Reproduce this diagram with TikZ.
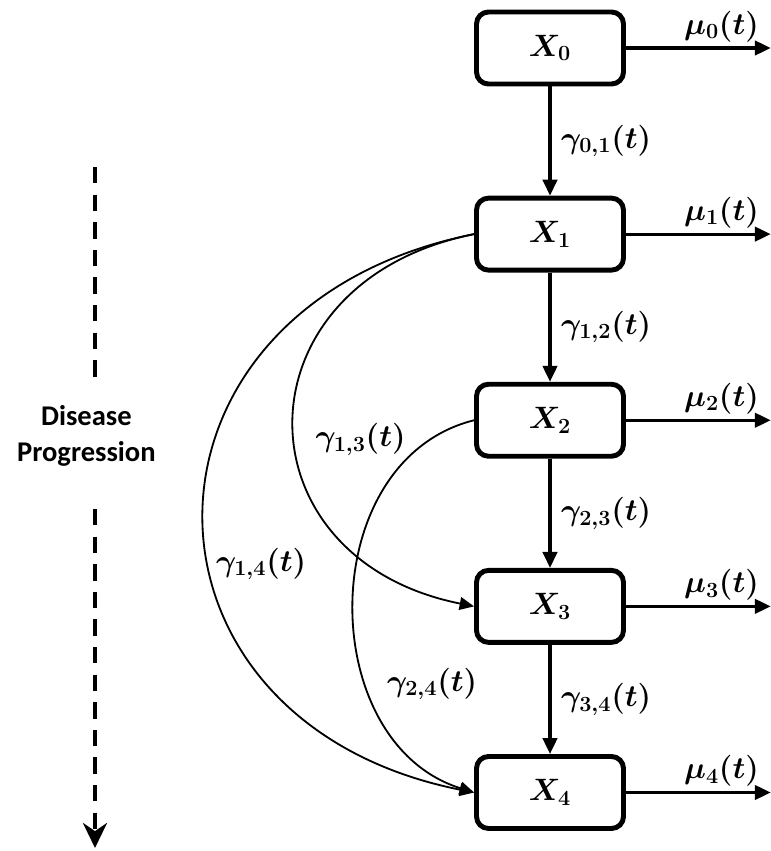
\RequirePackage{fix-cm}
\documentclass[tikz,border=0pt]{standalone}
\usepackage{amsmath,bm}
\usepackage{fontspec}
\newfontfamily\calibri{Carlito}
\usetikzlibrary{arrows.meta,positioning}

\begin{document}
\begin{tikzpicture}[
  node distance=2.73cm,
  state/.style={draw, line width=3.5pt, rounded corners=0.3cm, align=center, minimum width=3.675cm, minimum height=1.8cm, inner sep=0pt, font=\fontsize{22}{26}\selectfont},
  arrow/.style={-{Triangle[length=0.4cm, width=0.36cm]}, line width=2.3pt},
  jump/.style={-{Triangle[length=0.36cm, width=0.32cm]}, line width=1.3pt},
  rate/.style={inner sep=1pt, font=\fontsize{22}{26}\selectfont},
  progress/.style={dash pattern=on 0.41cm off 0.28cm, line width=2.8pt}
]
\useasboundingbox (0,0) rectangle (19.25,-21.275);
\node[state] (x0) at (13.75,-1.2) {$\bm{X_0}$};
\node[state, below=of x0] (x1) {$\bm{X_1}$};
\node[state, below=of x1] (x2) {$\bm{X_2}$};
\node[state, below=of x2] (x3) {$\bm{X_3}$};
\node[state, below=of x3] (x4) {$\bm{X_4}$};
\coordinate[right=3.62cm of x0.east] (m0);
\coordinate[right=3.62cm of x1.east] (m1);
\coordinate[right=3.62cm of x2.east] (m2);
\coordinate[right=3.62cm of x3.east] (m3);
\coordinate[right=3.62cm of x4.east] (m4);
\draw[arrow] (x0) -- node[rate, right=0.2cm]{$\bm{\gamma_{0,1}(t)}$} (x1);
\draw[arrow] (x1) -- node[rate, right=0.2cm]{$\bm{\gamma_{1,2}(t)}$} (x2);
\draw[arrow] (x2) -- node[rate, right=0.2cm]{$\bm{\gamma_{2,3}(t)}$} (x3);
\draw[arrow] (x3) -- node[rate, right=0.2cm]{$\bm{\gamma_{3,4}(t)}$} (x4);
\draw[arrow] (x0.east) -- node[rate, above=0.08cm, pos=0.66]{$\bm{\mu_0(t)}$} (m0);
\draw[arrow] (x1.east) -- node[rate, above=0.08cm, pos=0.66]{$\bm{\mu_1(t)}$} (m1);
\draw[arrow] (x2.east) -- node[rate, above=0.08cm, pos=0.66]{$\bm{\mu_2(t)}$} (m2);
\draw[arrow] (x3.east) -- node[rate, above=0.08cm, pos=0.66]{$\bm{\mu_3(t)}$} (m3);
\draw[arrow] (x4.east) -- node[rate, above=0.08cm, pos=0.66]{$\bm{\mu_4(t)}$} (m4);
% jumps over states
\draw[jump] (x1.west) .. controls +(-6.0,-1.2) and +(-6.0,1.2) .. node[rate, right=0.45cm, pos=0.54]{$\bm{\gamma_{1,3}(t)}$} (x3.west);
\draw[jump] (x1.west) .. controls +(-9.0,-1.8) and +(-9.0,1.8) .. node[rate, right=0.11cm, pos=0.57]{$\bm{\gamma_{1,4}(t)}$} (x4.west);
\draw[jump] (x2.west) .. controls +(-4.0,-1.0) and +(-4.0,1.25) .. node[rate, right=0.42cm, pos=0.67]{$\bm{\gamma_{2,4}(t)}$} (x4.west);
% disease progression
\coordinate (dtop) at (2.375,-4.175);
\coordinate (dgap1) at (2.375,-9.5);
\coordinate (dgap2) at (2.375,-12.725);
\coordinate (dend) at (2.375,-21.2);
\node[align=center, inner sep=0pt, font=\calibri\bfseries\fontsize{20.3}{25.5}\selectfont] (progtext) at (2.16,-10.9) {Disease\\Progression};
\draw[progress] (dtop) -- (dgap1);
\draw[progress, -{Stealth[length=0.625cm, width=0.6cm]}] (dgap2) -- (dend);
\end{tikzpicture}
\end{document}
